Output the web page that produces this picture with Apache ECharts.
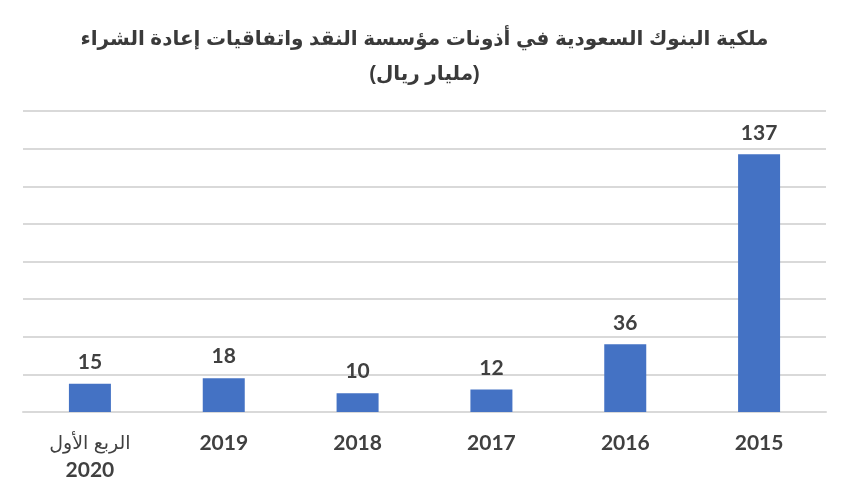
<!DOCTYPE html>
<html>
<head>
<meta charset="utf-8">
<script src="https://cdn.jsdelivr.net/npm/echarts@6/dist/echarts.min.js"></script>
<style>
html,body{margin:0;padding:0;background:#fff;}
#c{width:849px;height:500px;}
</style>
</head>
<body>
<div id="c"></div>
<script>
const titleLines = ['ملكية البنوك السعودية في أذونات مؤسسة النقد واتفاقيات إعادة الشراء', '(مليار ريال)'];
const categories = ['الربع الأول\n2020', '2019', '2018', '2017', '2016', '2015'];
const values = [15, 18, 10, 12, 36, 137];
const yMin = 0, yMax = 160, yInterval = 20;

const chart = echarts.init(document.getElementById('c'));
chart.setOption({
  animation: false,
  title: {
    text: titleLines.join('\n'),
    left: 'center',
    top: 17,
    textStyle: {
      fontFamily: 'Liberation Sans, DejaVu Sans, sans-serif',
      fontSize: 20,
      fontWeight: 'bold',
      color: '#3a3a3a',
      lineHeight: 35
    }
  },
  grid: { left: 23, right: 23, top: 111, bottom: 88, containLabel: false },
  xAxis: {
    type: 'category',
    data: categories,
    axisLine: { lineStyle: { color: '#d9d9d9', width: 2 } },
    axisTick: { show: false },
    axisLabel: {
      interval: 0,
      color: '#404040',
      fontWeight: 'bold',
      fontSize: 21,
      fontFamily: 'Lato, Open Sans, DejaVu Sans, sans-serif',
      margin: 18,
      lineHeight: 27,
      formatter: function (v) {
        const parts = v.split('\n');
        if (parts.length > 1) return '{ar|' + parts[0] + '}\n' + parts[1];
        return v;
      },
      rich: {
        ar: {
          fontWeight: 'normal',
          fontSize: 19,
          color: '#404040',
          lineHeight: 27,
          fontFamily: 'Liberation Sans, DejaVu Sans, sans-serif'
        }
      }
    }
  },
  yAxis: {
    type: 'value',
    min: yMin, max: yMax, interval: yInterval,
    axisLabel: { show: false },
    axisLine: { show: false },
    axisTick: { show: false },
    splitLine: { lineStyle: { color: '#d9d9d9', width: 2 } }
  },
  series: [{
    type: 'bar',
    data: values,
    barWidth: 42,
    itemStyle: { color: '#4472c4' },
    label: {
      show: true,
      position: 'top',
      distance: 11,
      color: '#404040',
      fontWeight: 'bold',
      fontSize: 21,
      fontFamily: 'Lato, Open Sans, DejaVu Sans, sans-serif'
    }
  }]
});
</script>
</body>
</html>
